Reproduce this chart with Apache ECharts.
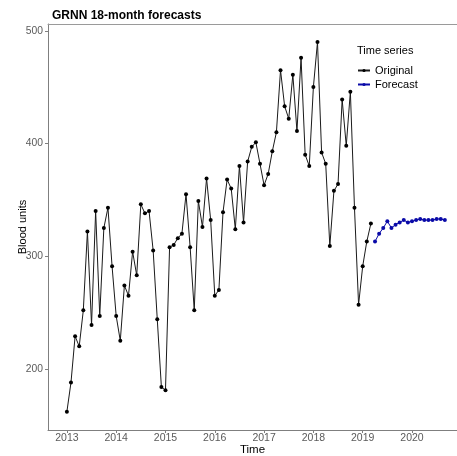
<!DOCTYPE html>
<html>
<head>
<meta charset="utf-8">
<script src="https://cdn.jsdelivr.net/npm/echarts@6/dist/echarts.min.js"></script>
<style>
html,body{margin:0;padding:0;background:#fff;}
#c{width:457px;height:456px;}
</style>
</head>
<body>
<div id="c"></div>
<script>
// Monthly series, original starts Jan 2013, forecast starts Apr 2019
var originalStart = [2013, 1];
var original = [162,188,229,220,252,322,239,340,247,325,
                343,291,247,225,274,265,304,283,346,338,
                340,305,244,184,181,308,310,316,320,355,
                308,252,349,326,369,332,265,270,339,368,
                360,324,380,330,384,397,401,382,363,373,
                393,410,465,433,422,461,411,476,390,380,
                450,490,392,382,309,358,364,439,398,446,
                343,257,291,313,329];
var forecastStart = [2019, 4];
var forecast = [313,320,325,331,325,328,330,332,330,331,332,333,332,332,332,333,333,332];
var xTicks = [2013,2014,2015,2016,2017,2018,2019,2020];
var yTicks = [200,300,400,500];

function toSeries(start, vals){
  return vals.map(function(v,i){
    return [start[0] + (start[1]-1+i)/12, v];
  });
}

var chart = echarts.init(document.getElementById('c'));
var font = 'Liberation Sans, Arial, sans-serif';
chart.setOption({
  animation: false,
  backgroundColor: '#fff',
  title: [{
    text: 'GRNN 18-month forecasts',
    left: 47, top: 5,
    textStyle: {fontFamily: font, fontSize: 12, fontWeight: 'bold', color: '#000'}
  },{
    text: 'Time series',
    left: 352, top: 40,
    textStyle: {fontFamily: font, fontSize: 11, fontWeight: 'normal', color: '#000'}
  }],
  legend: {
    orient: 'vertical',
    left: 352, top: 59,
    itemWidth: 12, itemHeight: 4, itemGap: 1,
    textStyle: {fontFamily: font, fontSize: 11, color: '#000', lineHeight: 13},
    data: ['Original', 'Forecast']
  },
  grid: {left: 48, right: 0, top: 24, bottom: 26, containLabel: false, outerBoundsMode: 'none'},
  xAxis: [{
    type: 'value',
    min: 2012.617, max: 2020.913,
    name: 'Time', nameLocation: 'middle', nameGap: 14, nameMoveOverlap: false,
    nameTextStyle: {fontFamily: font, fontSize: 11.5, color: '#000'},
    splitLine: {show: false},
    axisLine: {show: true, lineStyle: {color: '#7f7f7f', width: 1}},
    axisTick: {show: true, length: 3, lineStyle: {color: '#7f7f7f'}, customValues: xTicks},
    axisLabel: {fontFamily: font, fontSize: 10.5, color: '#5a5a5a', margin: 3, customValues: xTicks,
      formatter: function(v){ return String(Math.round(v)); }}
  },{
    type: 'value', position: 'top',
    min: 2012.617, max: 2020.913,
    splitLine: {show: false},
    axisLine: {show: true, lineStyle: {color: '#9a9a9a', width: 1}},
    axisTick: {show: false}, axisLabel: {show: false}
  }],
  yAxis: {
    type: 'value',
    min: 145.8, max: 506,
    name: 'Blood units', nameLocation: 'middle', nameGap: 20, nameRotate: 90, nameMoveOverlap: false,
    nameTextStyle: {fontFamily: font, fontSize: 11, color: '#000'},
    splitLine: {show: false},
    axisLine: {show: true, lineStyle: {color: '#7f7f7f', width: 1}},
    axisTick: {show: true, length: 3, lineStyle: {color: '#7f7f7f'}, customValues: yTicks},
    axisLabel: {fontFamily: font, fontSize: 10.3, color: '#5a5a5a', margin: 5, customValues: yTicks}
  },
  series: [{
    name: 'Original', type: 'line',
    data: toSeries(originalStart, original),
    symbol: 'circle', symbolSize: 4,
    lineStyle: {color: '#1a1a1a', width: 1},
    itemStyle: {color: '#000'}
  },{
    name: 'Forecast', type: 'line',
    data: toSeries(forecastStart, forecast),
    symbol: 'circle', symbolSize: 4,
    lineStyle: {color: '#0a0aa8', width: 1},
    itemStyle: {color: '#0a0aa8'}
  }]
});
</script>
</body>
</html>
